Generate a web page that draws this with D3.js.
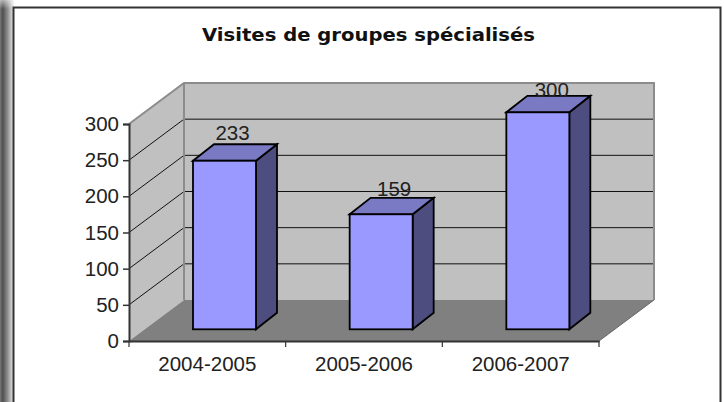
<!DOCTYPE html>
<html><head><meta charset="utf-8">
<script src="https://cdn.jsdelivr.net/npm/d3@7/dist/d3.min.js"></script>
<style>html,body{margin:0;padding:0;background:#fff}svg{display:block}</style>
</head><body><svg id="c" width="724" height="402"></svg>
<script>
const categories = ["2004-2005","2005-2006","2006-2007"];
const values = [233,159,300];
const yTicks = [0,50,100,150,200,250,300];
const chartTitle = "Visites de groupes spécialisés";

const svg = d3.select("#c");
const defs = svg.append("defs");
const g1 = defs.append("linearGradient").attr("id","strip").attr("x1",0).attr("x2",1).attr("y1",0).attr("y2",0);
[[0,"#777"],[0.2,"#505050"],[0.55,"#909090"],[1,"#f2f2f2"]].forEach(s=>g1.append("stop").attr("offset",s[0]).attr("stop-color",s[1]));
const g2 = defs.append("linearGradient").attr("id","fade").attr("x1",0).attr("x2",0).attr("y1",0).attr("y2",1);
[[0,"#fff",0.55],[1,"#fff",0]].forEach(s=>g2.append("stop").attr("offset",s[0]).attr("stop-color",s[1]).attr("stop-opacity",s[2]));
svg.append("rect").attr("x",0).attr("y",0).attr("width",14).attr("height",402).attr("fill","url(#strip)");
svg.append("rect").attr("x",0).attr("y",0).attr("width",14).attr("height",9).attr("fill","url(#fade)");
svg.append("rect").attr("x",13.5).attr("y",7.5).attr("width",707).attr("height",420).attr("fill","#fff").attr("stroke","#333").attr("stroke-width",2);

const x = d3.scaleBand().domain(categories).range([129,599]);
const y = d3.scaleLinear().domain([0,300]).range([341,124]);
const wallDx = 55, wallDy = 41, barDx = 21, barDy = 16.5, barOffset = 64, barW = 63, barLift = 11.7;
const labelDx = [8,13,14], labelDy = [21,18,15.6];
const poly = pts => pts.map(p=>p.join(",")).join(" ");
const x0 = x.range()[0], x1 = x.range()[1];

svg.append("polygon").attr("points",poly([[x0,y(0)],[x0+wallDx,y(0)-wallDy],[x0+wallDx,y(300)-wallDy],[x0,y(300)]])).attr("fill","#c0c0c0");
svg.append("polygon").attr("points",poly([[x0+wallDx,y(0)-wallDy],[x1+wallDx,y(0)-wallDy],[x1+wallDx,y(300)-wallDy],[x0+wallDx,y(300)-wallDy]])).attr("fill","#c0c0c0");
svg.append("polygon").attr("points",poly([[x0,y(0)],[x0+wallDx,y(0)-wallDy],[x1+wallDx,y(0)-wallDy],[x1,y(0)]])).attr("fill","#808080");
yTicks.filter(t=>t>0&&t<300).forEach(t=>{
  svg.append("line").attr("x1",x0).attr("y1",y(t)).attr("x2",x0+wallDx).attr("y2",y(t)-wallDy).attr("stroke","#111").attr("stroke-width",1);
  svg.append("line").attr("x1",x0+wallDx).attr("y1",y(t)-wallDy).attr("x2",x1+wallDx).attr("y2",y(t)-wallDy).attr("stroke","#111").attr("stroke-width",1);
});
svg.append("polyline").attr("points",poly([[x0,y(300)],[x0+wallDx,y(300)-wallDy],[x1+wallDx,y(300)-wallDy],[x1+wallDx,y(0)-wallDy]])).attr("fill","none").attr("stroke","#8c8c8c").attr("stroke-width",2);
svg.append("line").attr("x1",x0+wallDx).attr("y1",y(300)-wallDy).attr("x2",x0+wallDx).attr("y2",y(0)-wallDy).attr("stroke","#8c8c8c").attr("stroke-width",2);
svg.append("line").attr("x1",x1).attr("y1",y(0)).attr("x2",x1+wallDx).attr("y2",y(0)-wallDy).attr("stroke","#666").attr("stroke-width",1);

const bars = svg.selectAll("g.bar").data(categories.map((c,i)=>({c,v:values[i],i}))).join("g").attr("class","bar");
const bstroke = s=>s.attr("stroke","#000").attr("stroke-width",1.8).attr("stroke-linejoin","miter");
bars.each(function(d){
  const g=d3.select(this), l=x(d.c)+barOffset, r=l+barW, b=y(0)-barLift, t=b-(y(0)-y(d.v));
  g.append("polygon").attr("points",poly([[r,b],[r+barDx,b-barDy],[r+barDx,t-barDy],[r,t]])).attr("fill","#4d4d80").call(bstroke);
  g.append("polygon").attr("points",poly([[l,t],[l+barDx,t-barDy],[r+barDx,t-barDy],[r,t]])).attr("fill","#7a7ac4").call(bstroke);
  g.append("rect").attr("x",l).attr("y",t).attr("width",barW).attr("height",b-t).attr("fill","#9999ff").call(bstroke);
  g.append("text").attr("x",l+barW/2+labelDx[d.i]).attr("y",t-labelDy[d.i]).attr("text-anchor","middle").attr("font-family","'Liberation Sans',Arial,sans-serif").attr("font-size",20.5).attr("fill","#222").text(d.v);
});

const axisColor="#333";
const yAxis = svg.append("g").attr("transform",`translate(${x0},0)`).call(d3.axisLeft(y).tickValues(yTicks).tickSize(6).tickPadding(4).tickFormat(d3.format("d")));
const xAxis = svg.append("g").attr("transform",`translate(0,${y(0)})`).call(d3.axisBottom(x).tickValues(categories).tickSize(0).tickPadding(15));
xAxis.selectAll("line").remove();
svg.selectAll("line.xt").data(d3.range(categories.length+1)).join("line").attr("class","xt").attr("x1",i=>x0+i*x.bandwidth()).attr("x2",i=>x0+i*x.bandwidth()).attr("y1",y(0)).attr("y2",y(0)+6).attr("stroke",axisColor).attr("stroke-width",1.2);
[yAxis,xAxis].forEach(a=>{
  a.selectAll("text").attr("font-family","'Liberation Sans',Arial,sans-serif").attr("font-size",20.5).attr("fill","#222");
  a.selectAll(".domain").attr("stroke",axisColor).attr("stroke-width",2);
  a.selectAll("line").attr("stroke",axisColor).attr("stroke-width",1.5);
});
svg.append("text").attr("x",368.5).attr("y",41).attr("text-anchor","middle").attr("font-family","'DejaVu Sans',sans-serif").attr("font-size",17).attr("font-weight",700).attr("textLength",333).attr("lengthAdjust","spacingAndGlyphs").attr("fill","#111").text(chartTitle);
</script></body></html>
